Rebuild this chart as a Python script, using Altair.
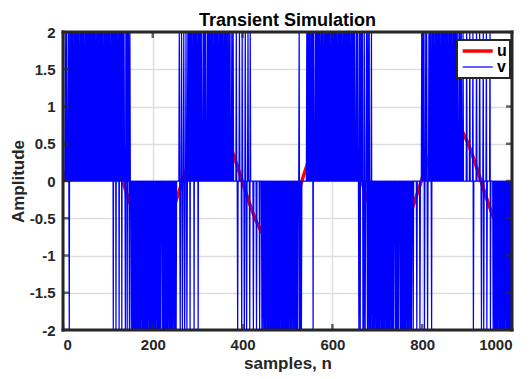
import altair as alt
import pandas as pd

FONT = "Liberation Sans"
INK = "#262626"

# ---- data ----
x_ticks = [0, 200, 400, 600, 800, 1000]
y_ticks = [-2, -1.5, -1, -0.5, 0, 0.5, 1, 1.5, 2]

# u: red sine, sampled every 10 samples
u_n = list(range(0, 1001, 10))
u_vals = [
    0.000, 0.187, 0.364, 0.521, 0.648, 0.740, 0.791, 0.797, 0.760, 0.680,
    0.562, 0.414, 0.242, 0.057, -0.132, -0.313, -0.476, -0.614, -0.717, -0.780,
    -0.800, -0.776, -0.708, -0.601, -0.461, -0.295, -0.113, 0.076, 0.260, 0.430,
    0.576, 0.690, 0.765, 0.799, 0.787, 0.733, 0.637, 0.506, 0.347, 0.169,
    -0.019, -0.206, -0.381, -0.535, -0.659, -0.747, -0.793, -0.796, -0.753, -0.670,
    -0.549, -0.397, -0.224, -0.038, 0.150, 0.330, 0.491, 0.625, 0.725, 0.784,
    0.800, 0.771, 0.699, 0.588, 0.445, 0.277, 0.094, -0.094, -0.278, -0.446,
    -0.589, -0.699, -0.771, -0.800, -0.784, -0.725, -0.625, -0.491, -0.330, -0.150,
    0.038, 0.224, 0.398, 0.549, 0.670, 0.754, 0.796, 0.793, 0.747, 0.659,
    0.534, 0.380, 0.205, 0.018, -0.169, -0.348, -0.507, -0.637, -0.733, -0.788,
    -0.799,
]

# v: ternary pulse stream, one char per sample ('+' = 2, '-' = -2, '.' = 0)
v_blocks = [
    ".....+..+. ..+.-+.+.+ .+..+.+.+. +.+.+.+..+ .+.+.+.+.. +.+.+.+.+. +.+.+.+.+. +.+..+.+.+ .+.+.+.+.+ ..+.+.+.+.",
    "+.+.+..+.+ .+-+.+.+-+ .+..+-+.+. +-+.+.+..- +.+-+.+.-+ ..-..-.-.- .-.-.-.-.- .-.-..-.-. -.-.-.-.-. .-.-.-.-.-",
    ".-.-.-.-.. -.-.-.-.-. ..-.-.-.-. -.-.-..-.- .-.-.-..-. -.-......+ .-..+.-..+ .-..+.-.+. +.+-+.+..+ .+-+.+.+..",
    "+-+.+.+.+. ..+.+.+.+. ..+.+.+.+. +.+.+..+.+ .+.+.+..+. +.+.+.+..+ .+.+.+.+.. +.+...+..+ ......+..- ...+....-+",
    "....-.+..- ..+...-+.. ....-..... .-......-. ...-..-..- .-..-.-.-. -.-.-.-.-. -.-.-.-.-. -.-.-..-.- .-.-.-.-.-",
    ".-.-..-.-. -..-.-.-.- .-.-..+-.- .-........ ...+.+.+.+ ..+.+.+-+. ..+.+.+.+. +.+..+.+.+ ..+.+.+.+. +.+.+..+.+",
    ".+.+.+.+.+ ..+.+.+.+. +.+..+.+.+ .+.+.+.+.+ ..+.+.+.+. +...+.+..- +.-+.+.+-. -+.-..+.-+ -.+-.-.+-. -.-.-..-.-",
    ".-.-.-..-. -.-.-.-..- .-.-.-.-.. -.-.-.-... -.-.-.-.-. ..-.-.-.-. -.-.-..-.- .-..-.-... -.......-. .....-...+",
    "+.+.+-..+. +.-..+.+.+ .-+.+.+..+ .+.+.+.+.+ ..+.+.+.+. +.+.+.+..+ .+.+.+.+.. +.+.+.+.+. ..+.+..+.. .+.......+",
    "......+... ...+-..... .+......+. ..-...+-.. ...+-..... .+-.....-. .-.-.-.-.- ..-.-.-.-. -.-.-..-.- .-.-.-.-.-",
    ".",
]

# ---- build table ----
code = "".join(v_blocks).replace(" ", "")
assert len(code) == 1001, len(code)
level = {"+": 2, "-": -2, ".": 0}
v_vals = [level[c] for c in code]

rows = [{"n": n, "value": val, "series": "u"} for n, val in zip(u_n, u_vals)]
rows += [{"n": n, "value": val, "series": "v"} for n, val in enumerate(v_vals)]
df = pd.DataFrame(rows)

W, H = 449, 298
x_scale = alt.Scale(domain=[0, 1000], nice=False, zero=False)
y_scale = alt.Scale(domain=[-2, 2], nice=False, zero=False)
x_axis = alt.Axis(values=x_ticks, title="samples, n", labelExpr="toString(datum.value)",
                  labelPadding=7, titlePadding=3)
y_axis = alt.Axis(values=y_ticks, title="Amplitude", labelExpr="toString(datum.value)",
                  labelPadding=8, titlePadding=2)

legend = alt.Legend(
    title=None, orient="none", legendX=394, legendY=8,
    symbolType="M-0.88,0H4.12", symbolSize=144,
    labelFont=FONT, labelFontSize=16, labelFontWeight="bold", labelColor="black",
    labelOffset=21, fillColor="white", strokeColor=INK, padding=3, rowPadding=0,
)

lines = alt.Chart(df).mark_line(strokeJoin="round", clip=True).encode(
    x=alt.X("n:Q", scale=x_scale, axis=x_axis),
    y=alt.Y("value:Q", scale=y_scale, axis=y_axis),
    color=alt.Color("series:N", scale=alt.Scale(domain=["u", "v"], range=["#ff0000", "#0000ff"]), legend=legend),
    strokeWidth=alt.StrokeWidth("series:N", scale=alt.Scale(domain=["u", "v"], range=[3.5, 1.25]), legend=legend),
)

xt = pd.DataFrame({"n": x_ticks})
yt = pd.DataFrame({"value": y_ticks})
tick_style = dict(color=INK, size=12, thickness=2.5, clip=True)
top_ticks = alt.Chart(xt).mark_tick(**tick_style).encode(
    x=alt.X("n:Q", scale=x_scale, axis=x_axis), y=alt.value(0))
bot_ticks = alt.Chart(xt).mark_tick(**tick_style).encode(
    x=alt.X("n:Q", scale=x_scale, axis=x_axis), y=alt.value(H))
left_ticks = alt.Chart(yt).mark_tick(**tick_style).encode(
    y=alt.Y("value:Q", scale=y_scale, axis=y_axis), x=alt.value(0))
right_ticks = alt.Chart(yt).mark_tick(**tick_style).encode(
    y=alt.Y("value:Q", scale=y_scale, axis=y_axis), x=alt.value(W))

frame_x = pd.DataFrame({"n": [0, 1000]})
frame_y = pd.DataFrame({"value": [-2, 2]})
vframe = alt.Chart(frame_x).mark_rule(color=INK, strokeWidth=3, strokeCap="square").encode(
    x=alt.X("n:Q", scale=x_scale, axis=x_axis))
hframe = alt.Chart(frame_y).mark_rule(color=INK, strokeWidth=3, strokeCap="square").encode(
    y=alt.Y("value:Q", scale=y_scale, axis=y_axis))

chart = alt.layer(
    lines, top_ticks, bot_ticks, left_ticks, right_ticks, vframe, hframe
).properties(
    width=W, height=H,
    title=alt.TitleParams("Transient Simulation", font=FONT, fontSize=18, fontWeight="bold",
                          color="black", anchor="middle", offset=2, dy=7),
    autosize=alt.AutoSizeParams(type="none"),
    padding={"left": 55, "top": 24, "right": 12, "bottom": 49},
).configure_view(stroke=None).configure_axis(
    domain=False, ticks=False, tickSize=0,
    grid=True, gridColor="#dedede", gridWidth=1.5,
    labelFont=FONT, labelFontSize=15, labelFontWeight="bold", labelColor=INK,
    titleFont=FONT, titleFontSize=17, titleFontWeight="bold", titleColor=INK,
).configure_legend(strokeWidth=2)

chart.save("out.html", embed_options={"renderer": "svg", "actions": False})
